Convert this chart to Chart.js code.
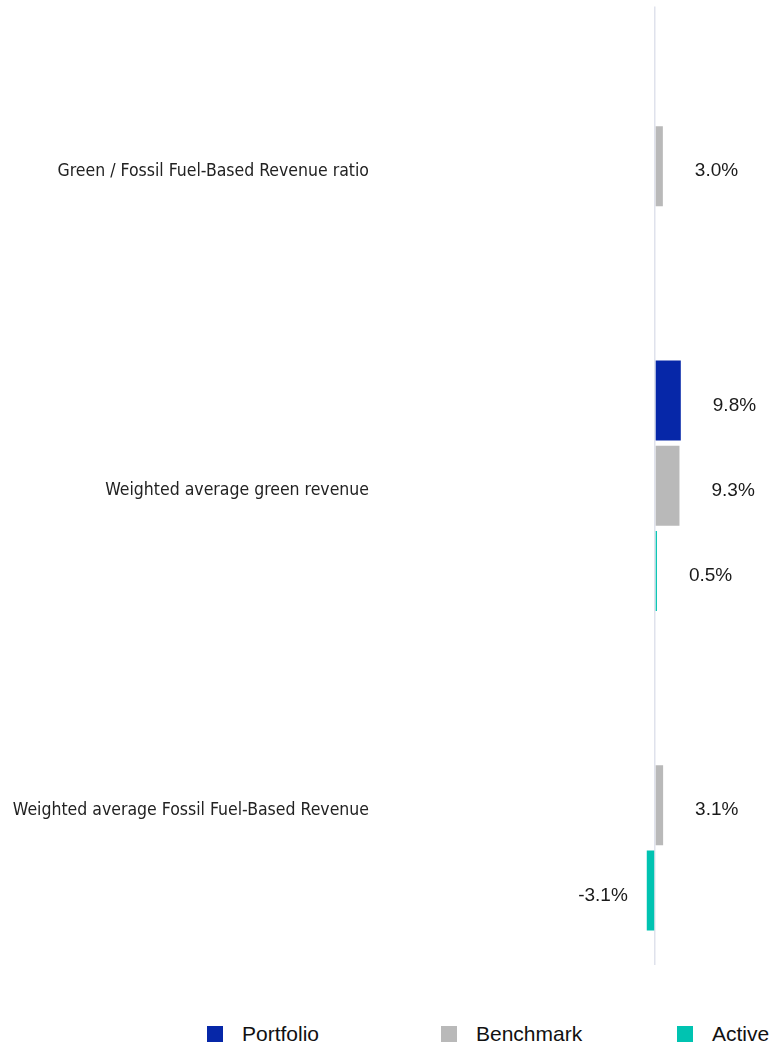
<!DOCTYPE html>
<html>
<head>
<meta charset="utf-8">
<script src="https://cdn.jsdelivr.net/npm/chart.js@4"></script>
<style>
  html, body { margin: 0; padding: 0; background: #fff; }
  #wrap { position: relative; width: 771px; height: 1046px; overflow: hidden; }
  #chart-box { position: absolute; left: 0; top: -13px; width: 771px; height: 1013px; }
  #legend { position: absolute; top: 1026px; left: 0; width: 771px; height: 30px;
    font-family: "Liberation Sans", Arial, sans-serif; font-size: 21px; color: #111; }
  .item { position: absolute; top: 0; white-space: nowrap; }
  .box { position: absolute; top: 0; width: 16px; height: 16px; }
  .lbl { position: absolute; top: -4px; }
</style>
</head>
<body>
<div id="wrap">
  <div id="chart-box"><canvas id="chart"></canvas></div>
  <div id="legend"></div>
</div>
<script>
const categories = [
  'Green / Fossil Fuel-Based Revenue ratio',
  'Weighted average green revenue',
  'Weighted average Fossil Fuel-Based Revenue'
];
const portfolio = [null, 9.8, null];
const benchmark = [3.0, 9.3, 3.1];
const active = [null, 0.5, -3.1];

const seriesNames = ['Portfolio', 'Benchmark', 'Active'];
const seriesColors = ['#0627a8', '#b9b9b9', '#00c3b1'];

// value labels next to the bar ends
const valueLabels = {
  id: 'valueLabels',
  afterDatasetsDraw(chart) {
    const ctx = chart.ctx;
    ctx.save();
    ctx.font = '19px "Liberation Sans", Arial, sans-serif';
    ctx.fillStyle = '#1a1a1a';
    ctx.textBaseline = 'middle';
    chart.data.datasets.forEach((ds, i) => {
      const meta = chart.getDatasetMeta(i);
      meta.data.forEach((bar, j) => {
        const v = ds.data[j];
        if (v === null || v === undefined) return;
        const txt = v.toFixed(1) + '%';
        if (v >= 0) {
          ctx.textAlign = 'left';
          ctx.fillText(txt, bar.x + 32, bar.y + 5);
        } else {
          ctx.textAlign = 'right';
          ctx.fillText(txt, bar.x - 19, bar.y + 5);
        }
      });
    });
    ctx.restore();
  }
};

const chart = new Chart(document.getElementById('chart'), {
  type: 'bar',
  data: {
    labels: categories,
    datasets: [
      { label: seriesNames[0], data: portfolio, backgroundColor: seriesColors[0] },
      { label: seriesNames[1], data: benchmark, backgroundColor: seriesColors[1] },
      { label: seriesNames[2], data: active, backgroundColor: seriesColors[2], minBarLength: 2 }
    ]
  },
  options: {
    indexAxis: 'y',
    responsive: true,
    maintainAspectRatio: false,
    animation: false,
    categoryPercentage: 0.8,
    barPercentage: 0.94,
    layout: { padding: { top: 0, bottom: 35, left: 0, right: 0 } },
    plugins: {
      legend: { display: false },
      tooltip: { enabled: false }
    },
    scales: {
      x: {
        min: -105,
        max: 44,
        ticks: { display: false },
        border: { display: false },
        grid: {
          drawTicks: false,
          lineWidth: 1.5,
          color: (c) => (c.tick && c.tick.value === 0 ? '#dfe2ec' : 'rgba(0,0,0,0)')
        },
        afterFit(scale) { scale.height = 0; }
      },
      y: {
        border: { display: false },
        grid: { display: false, drawTicks: false },
        ticks: {
          padding: 9,
          labelOffset: 5,
          color: '#222',
          font: { family: '"DejaVu Sans Condensed", "Liberation Sans Narrow", "Arial Narrow", sans-serif', size: 17.5 }
        },
        afterFit(scale) { scale.width = 378; }
      }
    }
  },
  plugins: [valueLabels]
});

// legend below the chart
const legendPos = [207, 441, 677];
const legend = document.getElementById('legend');
seriesNames.forEach((name, i) => {
  const item = document.createElement('div');
  item.className = 'item';
  item.style.left = legendPos[i] + 'px';
  const box = document.createElement('div');
  box.className = 'box';
  box.style.background = seriesColors[i];
  box.style.left = '0px';
  const lbl = document.createElement('div');
  lbl.className = 'lbl';
  lbl.style.left = '35px';
  lbl.textContent = name;
  item.appendChild(box);
  item.appendChild(lbl);
  legend.appendChild(item);
});
</script>
</body>
</html>
